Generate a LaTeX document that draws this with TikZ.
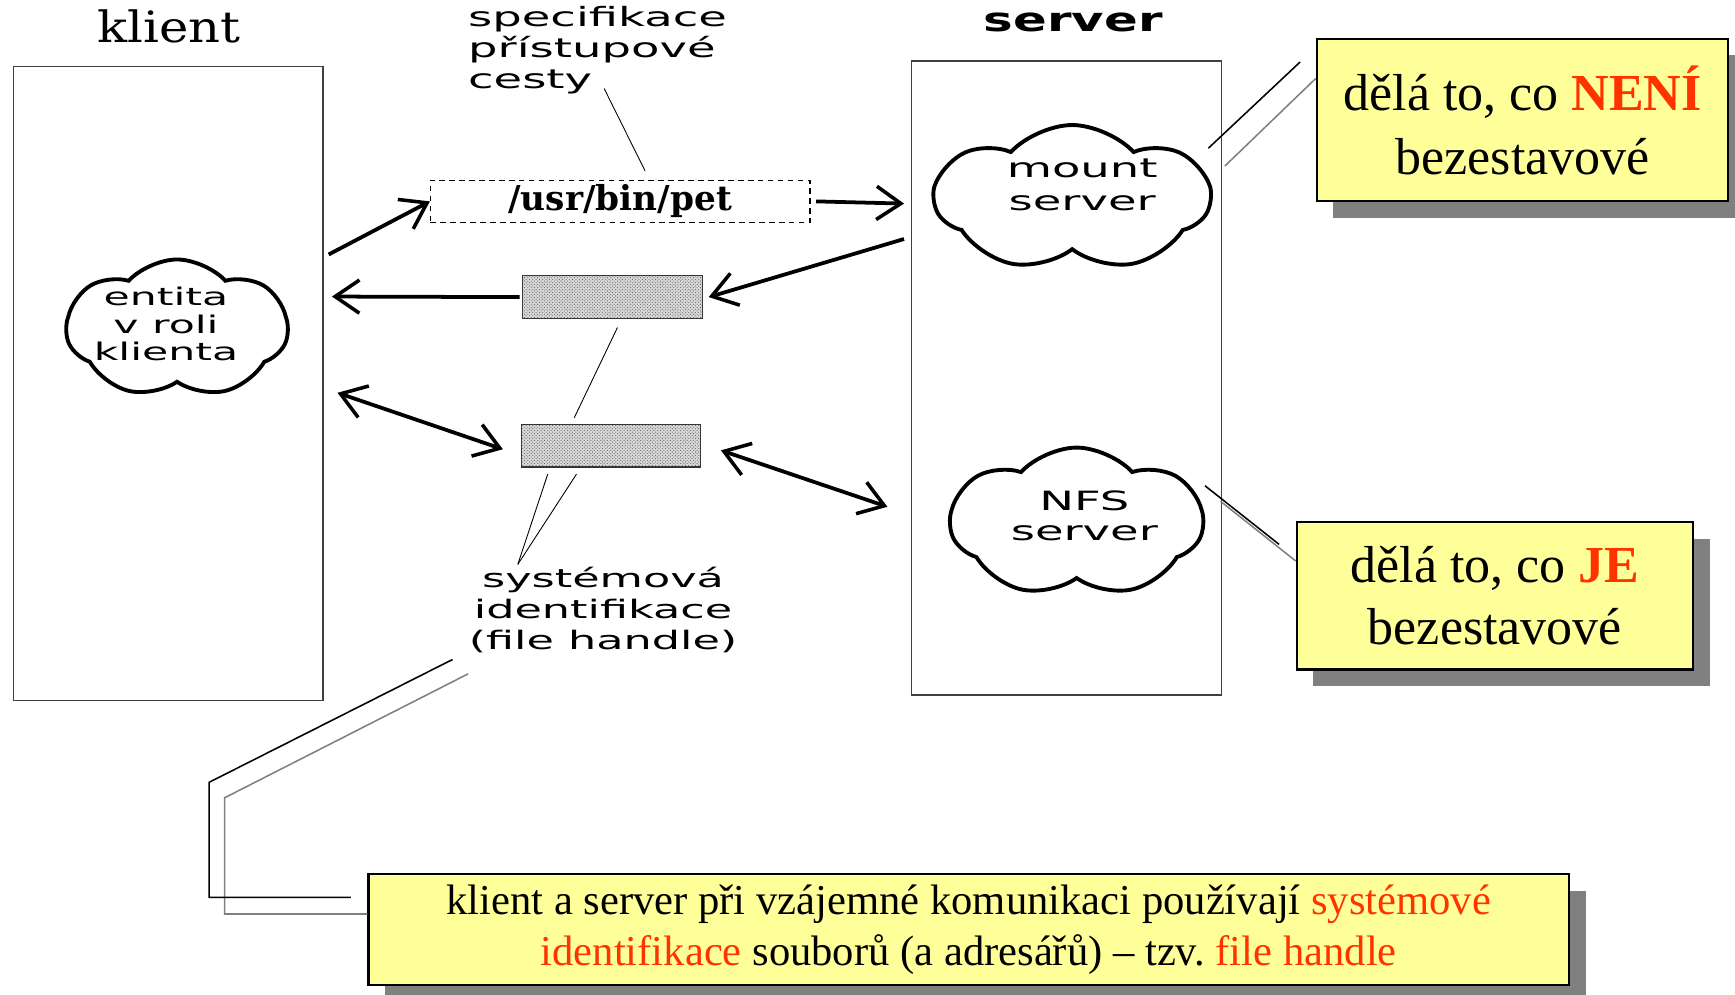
\documentclass[tikz,border=0pt]{standalone}
\usepackage{fontspec}
\setmainfont{Liberation Serif}
\newfontfamily\pix{DejaVu Sans}[FakeStretch=1.75]
\newfontfamily\pixb{DejaVu Sans}[FakeStretch=1.5]
\newfontfamily\pixserif{DejaVu Serif}[FakeStretch=1.15]
\newfontfamily\dserif{DejaVu Serif}
\usetikzlibrary{arrows.meta,shapes.symbols,shadows,patterns}
\definecolor{callyellow}{HTML}{FFFF99}
\definecolor{callred}{HTML}{FF3300}
\definecolor{shadowgray}{HTML}{808080}
\frenchspacing
\tikzset{
  sidebox/.style={draw=black!75, line width=1.2pt, inner sep=0pt},
  fhbox/.style={draw=black!80, line width=1pt, fill=black!15, inner sep=0pt,
     postaction={pattern=crosshatch dots, pattern color=black!65}},
  blob/.style={cloud, draw, line width=3.5pt, cloud puffs=7, cloud puff arc=95,
     cloud ignores aspect, inner sep=0pt},
  arr/.style={line width=3.4pt, -{Straight Barb[length=22pt,width=30pt,line width=3.2pt]}},
  darr/.style={line width=3.4pt, {Straight Barb[length=22pt,width=30pt,line width=3.2pt]}-{Straight Barb[length=22pt,width=30pt,line width=3.2pt]}},
  thin/.style={line width=0.8pt},
  callout/.style={draw=black, line width=2pt, fill=callyellow, align=center, inner sep=0pt,
     drop shadow={shadow xshift=15pt, shadow yshift=-15pt, fill=shadowgray, opacity=1}},
  cline/.style={line width=1.4pt, black},
  csh/.style={line width=1.4pt, shadowgray},
  pixlabel/.style={font=\pix\fontsize{24}{28}\selectfont, inner sep=0pt},
}
\begin{document}
\begin{tikzpicture}[x=1pt,y=-1pt]
\useasboundingbox (0,0) rectangle (1568,899);

% titles
\node[font=\pixserif\fontsize{39}{40}\selectfont] (kt) at (153,24) {klient};
\node[font=\pixb\bfseries\fontsize{30}{32}\selectfont] (st) at (970,20) {server};

% side boxes
\node[sidebox, minimum width=280pt, minimum height=573pt] (klbox) at (152,346.5) {};
\node[sidebox, minimum width=280pt, minimum height=573pt] (svbox) at (964,341.5) {};

% clouds
\node[blob, minimum width=200pt, minimum height=125pt] (entcloud) at (160,297) {};
\node[pixlabel, font=\pix\fontsize{22}{25}\selectfont, align=center] (entl) at (150,293) {entita\\v roli\\klienta};
\node[blob, minimum width=248pt, minimum height=132pt] (mcloud) at (969,179) {};
\node[pixlabel, align=center, font=\pix\fontsize{24}{30}\selectfont] (ml) at (978,167) {mount\\server};
\node[blob, minimum width=228pt, minimum height=135pt] (ncloud) at (973,472) {};
\node[pixlabel, align=center, font=\pix\fontsize{24}{27}\selectfont] (nl) at (980,466) {NFS\\server};

% path box
\node[draw, dashed, dash pattern=on 5pt off 4pt, line width=1pt, minimum width=343pt, minimum height=38pt,
      inner sep=0pt, font=\dserif\bfseries\fontsize{31}{32}\selectfont] (pathbox) at (560.5,182) {/usr/bin/pet};

% file handle boxes
\node[fhbox, minimum width=163pt, minimum height=39pt] (fh1) at (553.5,268.5) {};
\node[fhbox, minimum width=162pt, minimum height=38pt] (fh2) at (552,403) {};

% labels
\node[pixlabel, align=left] (spec) at (540,45) {specifikace\\přístupové\\cesty};
\node[pixlabel, align=center, font=\pix\fontsize{23}{28}\selectfont] (sysid) at (545,551) {systémová\\identifikace\\(file handle)};

% free ends
\coordinate (c1) at (297,230);
\coordinate (c2) at (817,184);
\coordinate (c3) at (817,216);
\coordinate (c4) at (300,268);
\coordinate (c5) at (305,355);
\coordinate (c6) at (802,458);
\coordinate (s1) at (546,80);
\coordinate (y1) at (468,510);

% arrows
\draw[arr] (c1) -- (pathbox.west);
\draw[arr] ([xshift=5pt]pathbox.east) -- (c2);
\draw[arr] (c3) -- ([xshift=5pt]fh1.east);
\draw[arr] ([xshift=-2pt]fh1.west) -- (c4);
\draw[darr] (c5) -- ([xshift=-16pt,yshift=-3pt]fh2.west);
\draw[darr] ([xshift=18pt,yshift=-4pt]fh2.east) -- (c6);

% thin lines
\draw[thin] (s1) -- ([xshift=22.5pt,yshift=8pt]pathbox.north);
\draw[thin] ([xshift=4.5pt,yshift=-7.5pt]fh1.south) -- ([xshift=-33pt,yshift=6pt]fh2.north);
\draw[thin] ([xshift=-57pt,yshift=-6pt]fh2.south) -- (y1);
\draw[thin] ([xshift=-31pt,yshift=-6pt]fh2.south) -- (y1);

% callouts
\node[callout, minimum width=372pt, minimum height=147pt, font=\fontsize{47}{58}\selectfont] (callA) at (1376,108.5)
  {dělá to, co {\bfseries\color{callred}NENÍ}\\bezestavové};
\node[callout, minimum width=358pt, minimum height=133pt, font=\fontsize{47}{56}\selectfont] (callB) at (1351,538.5)
  {dělá to, co {\bfseries\color{callred}JE}\\bezestavové};
\node[callout, minimum width=1085pt, minimum height=100pt, font=\fontsize{38.5}{46}\selectfont] (callC) at (875.5,840)
  {klient a server při vzájemné komunikaci používají \textcolor{callred}{systémové}\\\textcolor{callred}{identifikace} souborů (a adresářů) -- tzv. \textcolor{callred}{file handle}};

% callout leader lines
\coordinate (ka1) at (1092,134);
\coordinate (ka2) at (1107,150);
\draw[csh] ([yshift=-37pt]callA.north west) -- (ka2);
\draw[cline] ([xshift=-14pt,yshift=-22pt]callA.north west) -- (ka1);

\coordinate (kb1) at (1089,439);
\coordinate (kb2) at (1103,453);
\draw[csh] ([yshift=-36pt]callB.north west) -- (kb2);
\draw[cline] ([xshift=-15pt,yshift=-21pt]callB.north west) -- (kb1);

\coordinate (kc1) at (409,596);
\coordinate (kc2) at (423,609);
\draw[csh] ([yshift=14pt]callC.west) -- (203,826) -- (203,721) -- (kc2);
\draw[cline] ([xshift=-15pt,yshift=29pt]callC.west) -- (189,811) -- (189,707) -- (kc1);
\end{tikzpicture}
\end{document}
